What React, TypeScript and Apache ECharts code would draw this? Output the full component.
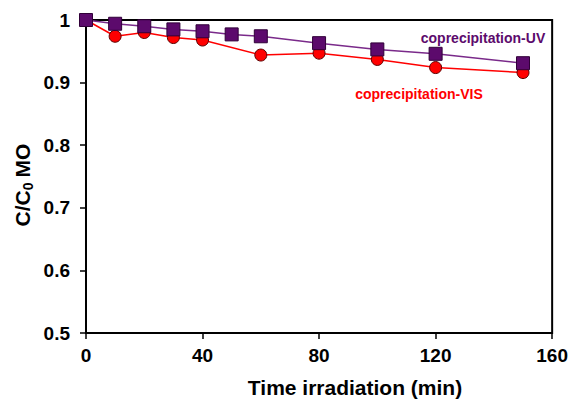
import React, { useEffect, useRef } from "react";
import * as echarts from "echarts";

const timeUV = [0, 10, 20, 30, 40, 50, 60, 80, 100, 120, 150];
const valuesUV = [1.0, 0.994, 0.99, 0.985, 0.982, 0.977, 0.974, 0.963, 0.953, 0.946, 0.931];
const timeVIS = [0, 10, 20, 30, 40, 60, 80, 100, 120, 150];
const valuesVIS = [1.0, 0.974, 0.98, 0.972, 0.968, 0.944, 0.947, 0.937, 0.924, 0.916];
const labelUV = "coprecipitation-UV";
const labelVIS = "coprecipitation-VIS";
const xTitle = "Time irradiation (min)";

const FONT = "'Liberation Sans', Arial, Helvetica, sans-serif";
const PURPLE = "#5c0a6c";
const RED = "#ff0000";

export default function App() {
  const ref = useRef<HTMLDivElement>(null);
  useEffect(() => {
    if (!ref.current) return;
    const chart = echarts.init(ref.current, null, { renderer: "svg" });
    chart.setOption({
      animation: false,
      backgroundColor: "#ffffff",
      grid: {
        left: 86,
        right: 14,
        top: 20,
        bottom: 66,
        show: true,
        borderColor: "#000",
        borderWidth: 2,
        backgroundColor: "transparent",
      },
      xAxis: {
        type: "value",
        min: 0,
        max: 160,
        interval: 40,
        splitLine: { show: false },
        axisLine: { lineStyle: { color: "#000", width: 2 } },
        axisTick: { inside: false, length: 6, lineStyle: { color: "#000", width: 1.5 } },
        axisLabel: {
          margin: 13,
          color: "#000",
          fontSize: 19,
          fontWeight: "bold",
          fontFamily: FONT,
        },
      },
      yAxis: {
        type: "value",
        min: 0.5,
        max: 1,
        interval: 0.1,
        splitLine: { show: false },
        axisLine: { lineStyle: { color: "#000", width: 2 } },
        axisTick: { inside: false, length: 6, lineStyle: { color: "#000", width: 1.5 } },
        axisLabel: {
          margin: 16,
          color: "#000",
          fontSize: 19,
          fontWeight: "bold",
          fontFamily: FONT,
          formatter: (v: number) => (Math.abs(v - 1) < 1e-9 ? "1" : v.toFixed(1)),
        },
      },
      series: [
        {
          type: "line",
          data: timeVIS.map((t, i) => [t, valuesVIS[i]]),
          symbol: "circle",
          symbolSize: 12,
          lineStyle: { color: RED, width: 1.5 },
          itemStyle: { color: RED, borderColor: "#5a0000", borderWidth: 1 },
        },
        {
          type: "line",
          data: timeUV.map((t, i) => [t, valuesUV[i]]),
          symbol: "rect",
          symbolSize: 13,
          lineStyle: { color: "#7a2a8a", width: 1.5 },
          itemStyle: { color: PURPLE, borderColor: "#300038", borderWidth: 1 },
        },
      ],
      graphic: [
        {
          type: "text",
          x: 483,
          y: 38,
          style: {
            text: labelUV,
            fill: PURPLE,
            font: `bold 14px ${FONT}`,
            textAlign: "center",
            textVerticalAlign: "middle",
          },
        },
        {
          type: "text",
          x: 419,
          y: 94,
          style: {
            text: labelVIS,
            fill: RED,
            font: `bold 14px ${FONT}`,
            textAlign: "center",
            textVerticalAlign: "middle",
          },
        },
        {
          type: "text",
          x: 355,
          y: 387,
          style: {
            text: xTitle,
            fill: "#000",
            font: `bold 21px ${FONT}`,
            textAlign: "center",
            textVerticalAlign: "middle",
          },
        },
        {
          type: "text",
          x: 22,
          y: 185,
          rotation: Math.PI / 2,
          style: {
            text: "{a|C/C}{b|0}{a|MO}",
            textAlign: "center",
            textVerticalAlign: "middle",
            rich: {
              a: { fontSize: 21, fontWeight: "bold", fontFamily: FONT, fill: "#000", color: "#000", lineHeight: 26, verticalAlign: "middle" },
              b: { fontSize: 14, fontWeight: "bold", fontFamily: FONT, fill: "#000", color: "#000", lineHeight: 26, verticalAlign: "bottom", padding: [10, 5, 0, 0] },
            },
          },
        },
      ],
    });
    return () => chart.dispose();
  }, []);
  return <div ref={ref} style={{ position: "fixed", left: 0, top: 0, width: 571, height: 399 }} />;
}
